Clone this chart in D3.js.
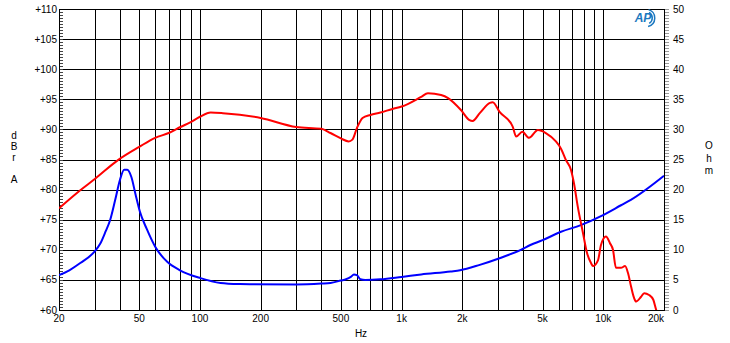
<!DOCTYPE html>
<html>
<head>
<meta charset="utf-8" />
<title>SPL and impedance</title>
<script src="https://d3js.org/d3.v7.min.js"></script>
<style>
  body { margin: 0; background: #fff; }
  text { font-family: "Liberation Sans", Arial, sans-serif; font-size: 10px; fill: #000; }
</style>
</head>
<body>
<script>
// frequency response (dBrA)
var splFreq = [20, 25.5, 30.2, 39.2, 50, 60, 70, 80, 90, 100, 113, 130, 200, 300, 400, 444, 500, 546, 570, 600,
  640, 700, 785, 900, 1000, 1250, 1350, 1570, 1700, 1970, 2160, 2250, 2440, 2740, 2830, 3060, 3550, 3700, 3970,
  4280, 4740, 5190, 5820, 6170, 6530, 6910, 7150, 7480, 7930, 8300, 8690, 8890, 9420, 9740, 10310, 10790, 11170,
  11560, 12240, 12820, 13270, 13730, 14210, 14540, 15390, 15940, 16870, 17700, 18300, 20000];
var splDb = [76.9, 79.9, 81.8, 84.9, 87.1, 88.6, 89.4, 90.4, 91.2, 92.1, 92.8, 92.7, 91.9, 90.4, 90.1, 89.4, 88.5, 88.0, 88.3, 90.2,
  91.9, 92.4, 92.8, 93.4, 93.8, 95.4, 96.0, 95.7, 95.2, 93.2, 91.6, 91.4, 92.7, 94.4, 94.5, 92.9, 90.5, 88.8, 89.6,
  88.6, 89.9, 89.4, 88.0, 86.8, 84.9, 83.3, 81.1, 77.1, 72.8, 69.5, 67.8, 67.3, 68.3, 70.8, 72.2, 71.1, 70.0,
  67.0, 67.0, 67.3, 66.1, 63.9, 62.0, 61.4, 62.2, 62.8, 62.5, 61.7, 60.0, 57.0];

// impedance (Ohm)
var zFreq = [20, 22.5, 25.5, 30, 32, 34, 35.9, 38, 40.1, 42.1, 43.6, 45.7, 48, 50.3, 54.4, 60, 68.8, 79.6, 100.6, 126.5,
  158, 177, 300, 400, 444, 500, 530, 560, 580, 600, 625, 660, 785, 1000, 1250, 1750, 1950, 2440, 3060, 3900, 4350,
  5000, 6170, 7740, 9740, 12240, 13700, 20000];
var zOhm = [5.8, 6.6, 7.8, 9.7, 11.0, 13.0, 15.0, 18.3, 21.6, 23.3, 23.3, 22.1, 19.1, 16.4, 13.5, 10.5, 8.0, 6.6, 5.3, 4.5,
  4.3, 4.27, 4.25, 4.4, 4.5, 4.9, 5.1, 5.5, 5.9, 5.8, 5.1, 5.0, 5.1, 5.5, 5.9, 6.4, 6.6, 7.5, 8.6, 10.0, 10.8,
  11.6, 13.0, 14.1, 15.6, 17.4, 18.3, 22.3];

// ticks
var freqLabels = [20, 50, 100, 200, 500, 1000, 2000, 5000, 10000, 20000];
var freqGrid = [30, 40, 50, 60, 70, 80, 90, 100, 200, 300, 400, 500, 600, 700, 800, 900, 1000,
  2000, 3000, 4000, 5000, 6000, 7000, 8000, 9000, 10000];
var dbTicks = [60, 65, 70, 75, 80, 85, 90, 95, 100, 105, 110];
var ohmTicks = [0, 5, 10, 15, 20, 25, 30, 35, 40, 45, 50];

var pLeft = 59, pRight = 664, pTop = 9, pBottom = 310;

var svg = d3.select("body").append("svg")
    .attr("width", 730)
    .attr("height", 343);

var x = d3.scaleLog().domain([20, 20000]).range([pLeft, pRight]);
var yDb = d3.scaleLinear().domain([60, 110]).range([pBottom, pTop]);
var yOhm = d3.scaleLinear().domain([0, 50]).range([pBottom, pTop]);

// vertical grid
svg.append("g")
    .attr("transform", "translate(0," + pBottom + ")")
    .call(d3.axisBottom(x).tickValues(freqGrid).tickSize(-(pBottom - pTop)).tickFormat(""))
    .call(function(g){ g.select(".domain").remove(); })
    .selectAll("line").attr("stroke", "#000").attr("shape-rendering", "crispEdges");

// horizontal grid
svg.append("g")
    .attr("transform", "translate(" + pLeft + ",0)")
    .call(d3.axisLeft(yDb).tickValues(dbTicks).tickSize(-(pRight - pLeft)).tickFormat(""))
    .call(function(g){ g.select(".domain").remove(); })
    .selectAll("line").attr("stroke", "#000").attr("shape-rendering", "crispEdges");

// minor ticks left (inside) and right (outside)
svg.append("g")
    .attr("transform", "translate(" + pLeft + ",0)")
    .call(d3.axisLeft(yDb).tickValues(d3.range(60, 110.01, 0.5)).tickSize(-4).tickFormat(""))
    .call(function(g){ g.select(".domain").remove(); })
    .selectAll("line").attr("stroke", "#444").attr("shape-rendering", "crispEdges");

svg.append("g")
    .attr("transform", "translate(" + pRight + ",0)")
    .call(d3.axisRight(yOhm).tickValues(d3.range(0, 50.01, 0.5)).tickSize(5).tickFormat(""))
    .call(function(g){ g.select(".domain").remove(); })
    .selectAll("line").attr("stroke", "#999").attr("shape-rendering", "crispEdges");

// frame
svg.append("rect")
    .attr("x", pLeft).attr("y", pTop)
    .attr("width", pRight - pLeft).attr("height", pBottom - pTop)
    .attr("fill", "none").attr("stroke", "#000")
    .attr("shape-rendering", "crispEdges");

// tick labels
svg.selectAll(".dbl").data(dbTicks).enter().append("text")
    .attr("x", pLeft - 2).attr("y", function(d){ return yDb(d) + 3.5; })
    .attr("text-anchor", "end")
    .text(function(d){ return "+" + d; });

svg.selectAll(".ohl").data(ohmTicks).enter().append("text")
    .attr("x", pRight + 9).attr("y", function(d){ return yOhm(d) + 3.5; })
    .text(function(d){ return d; });

svg.selectAll(".fl").data(freqLabels).enter().append("text")
    .attr("x", function(d){ return d == 20000 ? pRight : x(d); })
    .attr("y", pBottom + 12)
    .attr("text-anchor", function(d){ return d == 20000 ? "end" : "middle"; })
    .text(function(d){ return d >= 1000 ? (d / 1000) + "k" : d; });

// axis titles
svg.append("text").attr("x", 361).attr("y", 337).attr("text-anchor", "middle").text("Hz");

svg.selectAll(".lt").data(["d", "B", "r", " ", "A"]).enter().append("text")
    .attr("x", 14).attr("y", function(d, i){ return 139 + i * 11; })
    .attr("text-anchor", "middle")
    .text(function(d){ return d; });

svg.selectAll(".rt").data(["O", "h", "m"]).enter().append("text")
    .attr("x", 709).attr("y", function(d, i){ return 149 + i * 12.5; })
    .attr("text-anchor", "middle")
    .text(function(d){ return d; });

// clip for curves
svg.append("clipPath").attr("id", "plot")
  .append("rect").attr("x", pLeft).attr("y", pTop).attr("width", pRight - pLeft).attr("height", pBottom - pTop);

var splLine = d3.line()
    .x(function(d){ return x(d[0]); })
    .y(function(d){ return yDb(d[1]); })
    .curve(d3.curveMonotoneX);

var zLine = d3.line()
    .x(function(d){ return x(d[0]); })
    .y(function(d){ return yOhm(d[1]); })
    .curve(d3.curveMonotoneX);

svg.append("path")
    .datum(d3.zip(zFreq, zOhm))
    .attr("d", zLine)
    .attr("clip-path", "url(#plot)")
    .attr("fill", "none").attr("stroke", "#0000ff").attr("stroke-width", 2);

svg.append("path")
    .datum(d3.zip(splFreq, splDb))
    .attr("d", splLine)
    .attr("clip-path", "url(#plot)")
    .attr("fill", "none").attr("stroke", "#ff0000").attr("stroke-width", 2);

// AP logo
var logo = svg.append("g").attr("transform", "translate(646,18)");
logo.append("text")
    .attr("x", -3).attr("y", 4)
    .attr("text-anchor", "middle")
    .style("font-size", "12px").style("font-weight", "bold").style("font-style", "italic")
    .style("fill", "#1b78c0")
    .text("AP");
var arc = d3.arc();
logo.append("path")
    .attr("d", arc({innerRadius: 8, outerRadius: 9.5, startAngle: 0.3, endAngle: 2.9}))
    .attr("fill", "#1b78c0");
logo.append("path")
    .attr("d", arc({innerRadius: 5.5, outerRadius: 7, startAngle: 0.5, endAngle: 2.6}))
    .attr("fill", "#1b78c0");
</script>
</body>
</html>
